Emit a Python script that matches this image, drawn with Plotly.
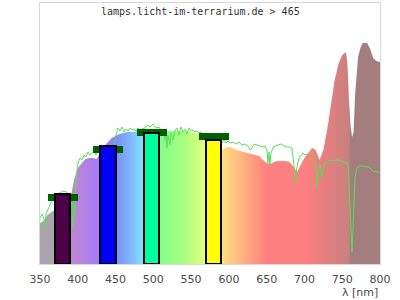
import plotly.graph_objects as go

# ---- data (relative intensity, arbitrary units) ----
wavelength = [350, 355, 360, 365, 370, 375, 380, 385, 390, 395, 400, 405, 410, 415, 420, 425,
              430, 435, 440, 445, 450, 455, 460, 465, 470, 475, 480, 485, 490, 495, 500, 505,
              510, 515, 520, 525, 530, 535, 540, 545, 550, 555, 560, 565, 570, 575, 580, 585,
              590, 595, 600, 605, 610, 615, 620, 625, 630, 635, 640, 645, 650, 655, 660, 665,
              670, 675, 680, 685, 690, 695, 700, 705, 710, 715, 720, 725, 730, 735, 740, 745,
              750, 755, 757, 759, 761, 763, 765, 767, 769, 771, 774, 777, 783, 787, 791, 795, 800]
spectrum = [41, 43, 49, 52, 54, 56, 58, 60, 64, 84, 96, 101, 105, 106, 106, 105,
            112, 118, 122, 126, 128, 130, 131, 132, 132, 132, 133, 133, 133, 134, 134, 133,
            132, 132, 133, 133, 133, 133, 133, 133, 132, 131, 130, 129, 127, 125, 123, 119,
            114, 116, 117, 116, 114, 113, 112, 111, 110, 109, 108, 104, 101, 100, 102, 103,
            103, 103, 102, 98, 92, 99, 106, 111, 116, 114, 104, 114, 134, 159, 184, 200,
            209, 212, 199, 164, 139, 127, 132, 169, 194, 207, 216, 221, 221, 215, 206, 203, 202]

ref_nm = [350, 352.6, 355.3, 356.6, 357.9, 360.6, 363.2, 365.9, 368.5, 372, 376, 380, 385, 389,
          392.4, 393.7, 395, 396.3, 397.6, 399, 400.3, 403, 405.6, 408.2, 411, 413.5, 416, 418.8,
          421.5, 424, 426.8, 430, 440, 448, 450.6, 453.2, 455.9, 458.5, 461.2, 463.8, 466.5,
          469.1, 471.8, 474.4, 477.1, 479.7, 482.4, 485, 489, 493, 495.6, 499.6, 503.5, 507.5,
          510.1, 512.8, 515.4, 516.7, 518, 519.4, 522, 523.4, 526, 528.7, 531.3, 534, 536.6,
          539.3, 541.9, 544.6, 547.2, 549.9, 552.5, 555.1, 557.8, 560.4, 563.1, 565.7, 569.7,
          575, 580.3, 585.6, 589.6, 590.9, 593.5, 596.2, 598.8, 601.5, 605.4, 609.4, 613.4,
          617.4, 621.3, 625.3, 628, 630.6, 633.3, 637.3, 641.2, 645.1, 647.8, 650.4, 651.8,
          653.1, 654.4, 655.7, 658.4, 661, 665, 669, 673, 676.9, 680.9, 683.5, 686.2, 687.5,
          688.8, 690.1, 692.8, 695.4, 698.1, 700.7, 703.4, 707.4, 710, 712.6, 715.3, 716.6,
          717.9, 719.3, 720.6, 721.9, 723.2, 724.6, 727.2, 729.9, 733.8, 737.8, 741.8, 745.7,
          749.7, 753.7, 756.4, 757.7, 759, 760.3, 761.7, 763, 764.4, 765.7, 767, 769.6, 773.5,
          777.5, 781.5, 785.4, 789.4, 792, 794.7, 797.4, 800]
ref_val = [46, 50, 45, 36, 50, 54, 59, 64, 66, 68, 71, 73, 72, 69,
           59, 36, 64, 49, 84, 94, 101, 106, 104, 109, 107, 112, 109, 111,
           114, 109, 112, 112, 114, 114, 129, 136, 133, 137, 132, 135, 133,
           136, 134, 135, 133, 136, 134, 135, 136, 139, 137, 140, 136, 137,
           134, 131, 124, 132, 116, 129, 119, 131, 124, 134, 136, 129, 137,
           132, 135, 130, 136, 133, 134, 132, 133, 131, 132, 130, 130,
           128, 127, 126, 124, 121, 124, 121, 123, 121, 122, 120, 122,
           119, 120, 118, 114, 116, 120, 119, 118, 117, 118, 114, 101,
           112, 99, 111, 116, 118, 119, 120, 118, 117, 117, 116, 99, 81,
           89, 97, 106, 109, 111, 109, 110, 111, 109, 107, 99, 77,
           89, 97, 99, 89, 87, 94, 101, 102, 104, 103, 104, 104,
           103, 102, 101, 99, 74, 49, 29, 12, 39, 74, 87, 96, 98,
           98, 97, 97, 94, 92, 93, 91, 92]

bar_center = [380, 440, 498, 580]
bar_value = [70, 118, 131, 124]
bar_colors = ["#4b0048", "#0000ff", "#00ffa0", "#ffff00"]
target_value = [70, 118, 135, 131]

x_ticks = [350, 400, 450, 500, 550, 600, 650, 700, 750, 800]
title_text = "lamps.licht-im-terrarium.de > 465"
x_label = "λ [nm]"

# ---- styles ----
X0, X1 = 350, 800
YMAX = 261
BAR_W = 20
CAP_W = 40
CAP_T = 7

grad_stops = [(350, "#aca4ac"), (369, "#aca4ac"), (371, "#c68ccc"), (392, "#c088d2"),
              (428, "#a47cf8"), (450, "#7c8cf8"), (468, "#80b4ff"), (488, "#80e6ff"),
              (510, "#84ff88"), (540, "#a8ff80"), (568, "#e4ff80"), (590, "#ffe080"),
              (620, "#ffb080"), (650, "#ff8080"), (700, "#ff8080"), (759.5, "#c88080"),
              (760, "#a47e7e"), (800, "#a47e7e")]
colorscale = [[(nm - X0) / (X1 - X0), c] for nm, c in grad_stops]

fig = go.Figure()
fig.add_trace(go.Scatter(
    x=wavelength, y=spectrum, mode="lines", line=dict(width=0),
    fill="tozeroy",
    fillgradient=dict(type="horizontal", colorscale=colorscale, start=X0, stop=X1),
    hoverinfo="skip", showlegend=False))
fig.add_trace(go.Scatter(
    x=ref_nm, y=ref_val, mode="lines", line=dict(color="#5ade5a", width=1),
    hoverinfo="skip", showlegend=False))

fig.add_trace(go.Bar(
    x=bar_center, y=[CAP_T] * len(target_value), base=[v - CAP_T for v in target_value],
    width=CAP_W, marker=dict(color="#006000", line=dict(width=0)),
    xaxis="x2", yaxis="y2", showlegend=False))
fig.add_trace(go.Bar(
    x=bar_center, y=bar_value, width=BAR_W,
    marker=dict(color=bar_colors, line=dict(color="black", width=2)),
    xaxis="x2", yaxis="y2", showlegend=False))

axis_font = dict(family="DejaVu Sans", size=11, color="#4a4a4a")
fig.update_layout(
    width=400, height=300,
    margin=dict(l=40, r=20, t=3, b=36),
    paper_bgcolor="white", plot_bgcolor="white",
    barmode="overlay", bargap=0,
    xaxis=dict(range=[X0, X1], tickvals=x_ticks, ticks="outside", ticklen=5,
               tickcolor="rgba(0,0,0,0)", tickfont=axis_font, showgrid=False,
               zeroline=False, showline=True, mirror=True, linecolor="#d8d8d8",
               linewidth=1),
    yaxis=dict(range=[0, YMAX], showticklabels=False, ticks="", showgrid=False,
               zeroline=False, showline=True, mirror=True, linecolor="#d8d8d8",
               linewidth=1),
    xaxis2=dict(range=[X0, X1], overlaying="x", visible=False),
    yaxis2=dict(range=[0, YMAX], overlaying="y", visible=False),
    annotations=[
        dict(text=title_text, x=0.4706, y=0.969, xref="paper", yref="paper",
             xanchor="center", yanchor="middle", showarrow=False,
             font=dict(family="DejaVu Sans Mono", size=10, color="#333333")),
        dict(text=x_label, x=1, y=-0.108, xref="paper", yref="paper",
             xanchor="right", yanchor="middle", showarrow=False, font=axis_font),
    ],
)

fig.write_html("out.html")
